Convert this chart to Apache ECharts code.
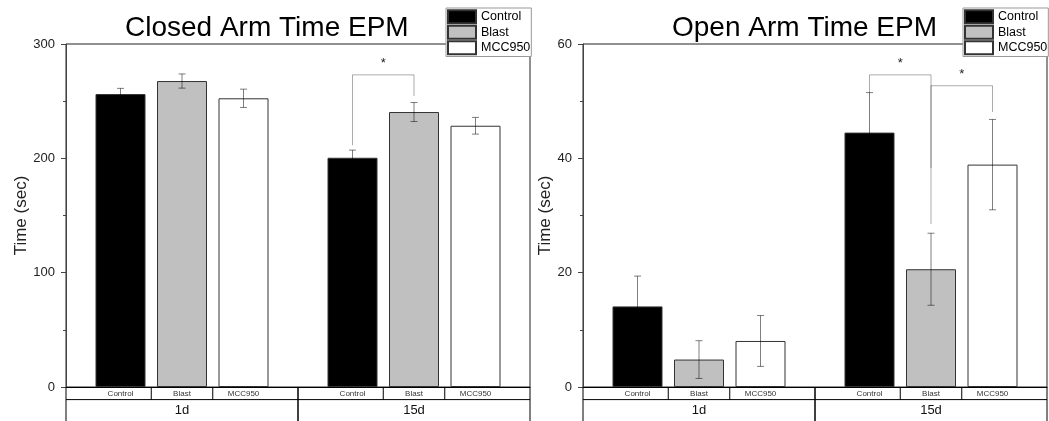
<!DOCTYPE html>
<html>
<head>
<meta charset="utf-8">
<title>EPM Arm Time</title>
<script src="https://cdn.jsdelivr.net/npm/echarts@6/dist/echarts.min.js"></script>
<style>
  html, body { margin: 0; padding: 0; background: #fff; }
  #chart { width: 1049px; height: 421px; }
</style>
</head>
<body>
<div id="chart"></div>
<script>
// Timepoints and treatment groups
const categories = ['1d', '15d'];
const groups = ['Control', 'Blast', 'MCC950'];

// Closed arm time (sec): mean and SEM per group, per timepoint
const closedControl = [256.2, 200.5];
const closedBlast = [267.6, 240.5];
const closedMcc = [252.5, 228.5];
const closedControlErr = [5.0, 6.7];
const closedBlastErr = [6.2, 8.3];
const closedMccErr = [8.0, 7.3];

// Open arm time (sec)
const openControl = [14.1, 44.5];
const openBlast = [4.8, 20.6];
const openMcc = [8.05, 38.9];
const openControlErr = [5.3, 7.0];
const openBlastErr = [3.3, 6.3];
const openMccErr = [4.45, 7.9];

// Significance brackets: [timepoint, fromGroup, toGroup, top, fromEnd, toEnd] in data units
const closedBrackets = [[1, 0, 1, 273, 211.5, 254.5]];
const openBrackets = [[1, 0, 1, 54.6, 51.5, 38.3], [1, 1, 2, 52.7, 28.5, 48.1]];

// Y axis ticks
const closedTicks = { min: 0, max: 300, interval: 100 };
const openTicks = { min: 0, max: 60, interval: 20 };

const FONT = '"Liberation Sans", Arial, sans-serif';
const BAR_WIDTH = 50;
const BAR_GAP = 0.23;
const BAR_STEP = BAR_WIDTH * (1 + BAR_GAP);
const fills = ['#000000', '#c0c0c0', '#ffffff'];

function errorBarRender(k) {
  return function (params, api) {
    const c = api.value(0), m = api.value(1), e = api.value(2);
    const hi = api.coord([c, m + e]);
    const lo = api.coord([c, m - e]);
    const x = hi[0] + (k - 1) * BAR_STEP;
    const cap = 3.5;
    const st = { stroke: 'rgba(0,0,0,0.5)', lineWidth: 1 };
    return {
      type: 'group',
      children: [
        { type: 'line', shape: { x1: x, y1: hi[1], x2: x, y2: lo[1] }, style: st },
        { type: 'line', shape: { x1: x - cap, y1: hi[1], x2: x + cap, y2: hi[1] }, style: st },
        { type: 'line', shape: { x1: x - cap, y1: lo[1], x2: x + cap, y2: lo[1] }, style: st }
      ]
    };
  };
}

function bracketRender(params, api) {
  const c = api.value(0), a = api.value(1), b = api.value(2);
  const top = api.coord([c, api.value(3)]);
  const endA = api.coord([c, api.value(4)]);
  const endB = api.coord([c, api.value(5)]);
  const xa = top[0] + (a - 1) * BAR_STEP;
  const xb = top[0] + (b - 1) * BAR_STEP;
  const st = { stroke: 'rgba(0,0,0,0.33)', lineWidth: 1 };
  return {
    type: 'group',
    children: [
      { type: 'polyline', shape: { points: [[xa, endA[1]], [xa, top[1]], [xb, top[1]], [xb, endB[1]]] }, style: Object.assign({ fill: null }, st) },
      { type: 'text', style: { text: '*', x: (xa + xb) / 2, y: top[1] - 11, align: 'center', verticalAlign: 'middle', fontSize: 13, fontFamily: FONT, fill: '#222' } }
    ]
  };
}

function tableRender(params, api) {
  const i = api.value(0);
  const ctr = api.coord([i, 0]);
  const band = api.size([1, 0])[0];
  const y0 = ctr[1];
  const l = ctr[0] - band / 2, r = ctr[0] + band / 2;
  const row1 = 12.6, row2 = 40;
  const st = { stroke: '#000', lineWidth: 1 };
  const children = [
    { type: 'line', shape: { x1: l, y1: y0, x2: l, y2: y0 + row2 }, style: st },
    { type: 'line', shape: { x1: r, y1: y0, x2: r, y2: y0 + row2 }, style: st },
    { type: 'line', shape: { x1: l, y1: y0 + row1, x2: r, y2: y0 + row1 }, style: st },
    { type: 'text', style: { text: categories[i], x: ctr[0], y: y0 + row1 + 11, align: 'center', verticalAlign: 'middle', fontSize: 13, fontFamily: FONT, fill: '#111' } }
  ];
  [-0.5, 0.5].forEach(function (d) {
    const x = ctr[0] + d * BAR_STEP;
    children.push({ type: 'line', shape: { x1: x, y1: y0, x2: x, y2: y0 + row1 }, style: st });
  });
  groups.forEach(function (g, k) {
    children.push({ type: 'text', style: { text: g, x: ctr[0] + (k - 1) * BAR_STEP, y: y0 + row1 / 2 + 0.5, align: 'center', verticalAlign: 'middle', fontSize: 8, fontFamily: FONT, fill: '#333' } });
  });
  return { type: 'group', children: children };
}

function panelSeries(idx, means, errs, brackets) {
  const out = [];
  means.forEach(function (vals, k) {
    out.push({
      type: 'bar', name: groups[k], xAxisIndex: idx, yAxisIndex: idx,
      data: vals, barWidth: BAR_WIDTH, barGap: (BAR_GAP * 100) + '%',
      itemStyle: { color: fills[k], borderColor: '#333', borderWidth: 1 },
      z: 2
    });
  });
  means.forEach(function (vals, k) {
    out.push({
      type: 'custom', xAxisIndex: idx, yAxisIndex: idx, z: 3,
      renderItem: errorBarRender(k),
      encode: { x: 0, y: 1 },
      data: vals.map(function (v, c) { return [c, v, errs[k][c]]; })
    });
  });
  out.push({
    type: 'custom', xAxisIndex: idx, yAxisIndex: idx, z: 3, clip: false,
    renderItem: bracketRender, encode: { x: 0, y: 3 },
    data: brackets
  });
  out.push({
    type: 'custom', xAxisIndex: idx, yAxisIndex: idx, z: 4, clip: false,
    renderItem: tableRender, encode: { x: 0, y: 1 },
    data: categories.map(function (c, i) { return [i, 0]; })
  });
  return out;
}

function yAxis(idx, ticks, gap) {
  return {
    gridIndex: idx, type: 'value', min: ticks.min, max: ticks.max, interval: ticks.interval,
    name: 'Time (sec)', nameLocation: 'middle', nameGap: gap,
    nameTextStyle: { fontSize: 17, color: '#222', fontFamily: FONT },
    axisLine: { show: true, lineStyle: { color: '#444', width: 1 } },
    axisTick: { show: true, length: 5, lineStyle: { color: '#444' } },
    minorTick: { show: true, splitNumber: 2, length: 3, lineStyle: { color: '#444' } },
    splitLine: { show: false },
    axisLabel: { fontSize: 13, margin: 11, color: '#222', fontFamily: FONT }
  };
}

function xAxis(idx) {
  return {
    gridIndex: idx, type: 'category', data: categories,
    axisLine: { show: true, lineStyle: { color: '#000', width: 1 } },
    axisTick: { show: false }, axisLabel: { show: false }, splitLine: { show: false }
  };
}

function legend(left) {
  return {
    left: left, top: 8, orient: 'vertical', data: groups,
    icon: 'rect', itemWidth: 28, itemHeight: 13, itemGap: 0,
    padding: [1, 1, 1, 1], backgroundColor: '#fff',
    borderColor: '#999', borderWidth: 1, selectedMode: false,
    textStyle: { fontSize: 12.5, lineHeight: 15.5, color: '#000', fontFamily: FONT },
    z: 10
  };
}

const chart = echarts.init(document.getElementById('chart'), null, { renderer: 'canvas' });
chart.setOption({
  animation: false,
  backgroundColor: '#fff',
  title: [
    { text: 'Closed Arm Time EPM', left: 120, top: 9, textStyle: { fontSize: 28, fontWeight: 'normal', color: '#000', fontFamily: FONT } },
    { text: 'Open Arm Time EPM', left: 667, top: 9, textStyle: { fontSize: 28, fontWeight: 'normal', color: '#000', fontFamily: FONT } }
  ],
  legend: [legend(446), legend(963)],
  grid: [
    { left: 66, right: 519, top: 44, bottom: 34, show: true, borderColor: '#222', borderWidth: 1, backgroundColor: 'transparent' },
    { left: 583, right: 2, top: 44, bottom: 34, show: true, borderColor: '#222', borderWidth: 1, backgroundColor: 'transparent' }
  ],
  xAxis: [xAxis(0), xAxis(1)],
  yAxis: [yAxis(0, closedTicks, 36), yAxis(1, openTicks, 28)],
  series: [].concat(
    panelSeries(0, [closedControl, closedBlast, closedMcc], [closedControlErr, closedBlastErr, closedMccErr], closedBrackets),
    panelSeries(1, [openControl, openBlast, openMcc], [openControlErr, openBlastErr, openMccErr], openBrackets)
  )
});
</script>
</body>
</html>
